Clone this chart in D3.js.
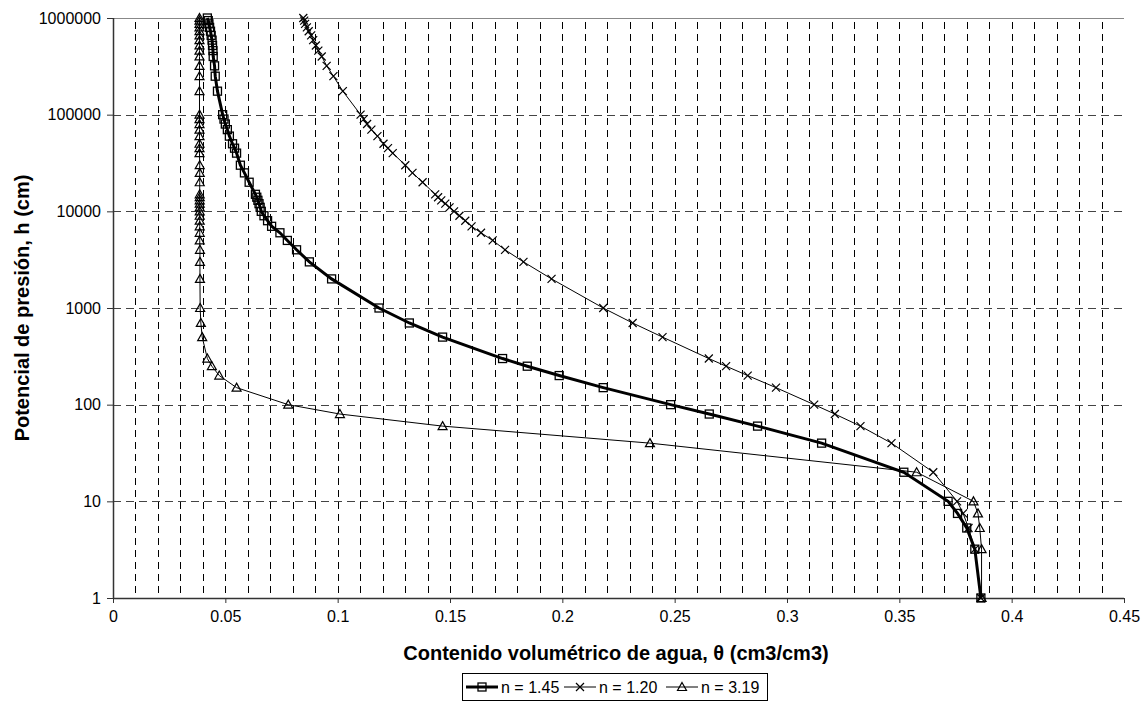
<!DOCTYPE html>
<html>
<head>
<meta charset="utf-8">
<script src="https://cdn.jsdelivr.net/npm/d3@7"></script>
<style>
	body { margin: 0; background: #fff; }
	text { font-family: "Liberation Sans", Arial, sans-serif; }
</style>
</head>
<body>
<svg id="chart" width="1148" height="706"></svg>
<script>
// pressure heads shared by all three curves (cm)
var heads = [1, 3.2, 5.3, 7.5, 10, 20, 40, 60, 80, 100, 150, 200, 250, 300, 500, 700,
	1000, 2000, 3000, 4000, 5000, 6000, 7000, 8000, 9000, 10000, 11000, 12000, 13000, 14000,
	15000, 20000, 25000, 30000, 40000, 45000, 50000, 60000, 70000, 80000, 90000, 100000,
	175000, 250000, 320000, 400000, 460000, 520000, 590000, 660000, 730000, 800000,
	870000, 940000, 1000000];

// water content for n = 1.45
var theta_145 = [0.3863, 0.3836, 0.3800, 0.3759, 0.3717, 0.3520, 0.3154, 0.2869, 0.2654, 0.2482,
	0.2182, 0.1986, 0.1844, 0.1734, 0.1467, 0.1319, 0.1184, 0.0973, 0.0874, 0.0817, 0.0776,
	0.0743, 0.0706, 0.0688, 0.0672, 0.0660, 0.0655, 0.0650, 0.0645, 0.0640, 0.0634, 0.0606,
	0.0585, 0.0567, 0.0550, 0.0541, 0.0532, 0.0518, 0.0509, 0.0500, 0.0494, 0.0488, 0.0465,
	0.0455, 0.0452, 0.0446, 0.0445, 0.0443, 0.0441, 0.0437, 0.0434, 0.0430, 0.0427, 0.0424, 0.0420];

// water content for n = 1.20
var theta_120 = [0.3863, 0.3836, 0.3808, 0.3784, 0.3757, 0.3651, 0.3465, 0.3327, 0.3213, 0.3121,
	0.2951, 0.2825, 0.2729, 0.2652, 0.2446, 0.2313, 0.2182, 0.1952, 0.1827, 0.1745, 0.1690,
	0.1638, 0.1596, 0.1568, 0.1542, 0.1518, 0.1498, 0.1479, 0.1461, 0.1447, 0.1434, 0.1378,
	0.1333, 0.1301, 0.1245, 0.1224, 0.1204, 0.1177, 0.1150, 0.1131, 0.1116, 0.1102, 0.1023,
	0.0981, 0.0951, 0.0929, 0.0914, 0.0903, 0.0891, 0.0882, 0.0871, 0.0863, 0.0855, 0.0851, 0.0847];

// water content for n = 3.19
var theta_319 = [0.3866, 0.3866, 0.3858, 0.3850, 0.3830, 0.3577, 0.2390, 0.1467, 0.1010, 0.0780,
	0.0550, 0.0473, 0.0440, 0.0420, 0.0397, 0.0391, 0.0388, 0.0387, 0.0387, 0.0387, 0.0386,
	0.0386, 0.0386, 0.0386, 0.0386, 0.0386, 0.0386, 0.0386, 0.0386, 0.0386, 0.0386, 0.0386,
	0.0386, 0.0386, 0.0385, 0.0385, 0.0385, 0.0385, 0.0385, 0.0385, 0.0385, 0.0385, 0.0385,
	0.0385, 0.0385, 0.0385, 0.0385, 0.0385, 0.0385, 0.0385, 0.0385, 0.0385, 0.0385, 0.0385, 0.0385];

var series_names = ['n = 1.45', 'n = 1.20', 'n = 3.19'];
var x_ticks = [0, 0.05, 0.1, 0.15, 0.2, 0.25, 0.3, 0.35, 0.4, 0.45];
var y_ticks = [1, 10, 100, 1000, 10000, 100000, 1000000];

var margin = {left: 113, top: 18, right: 24, bottom: 108};
var svg = d3.select('#chart');
var width = 1148 - margin.left - margin.right;
var height = 706 - margin.top - margin.bottom;

var x = d3.scaleLinear().domain([0, 0.45]).range([0, width]);
var y = d3.scaleLog().domain([1, 1000000]).range([height, 0]);

var g = svg.append('g').attr('transform', 'translate(' + margin.left + ',' + margin.top + ')');

// vertical grid every 0.01
var minor = d3.range(1, 45).map(function(i) { return i/100; });
g.selectAll('.vgrid').data(minor).enter().append('line')
	.attr('x1', function(d) { return Math.round(x(d)) + 0.5; })
	.attr('x2', function(d) { return Math.round(x(d)) + 0.5; })
	.attr('y1', 0).attr('y2', height)
	.attr('stroke', '#000').attr('stroke-width', 1)
	.attr('stroke-dasharray', '7,5').attr('stroke-dashoffset', -4);

// horizontal grid at each decade
g.selectAll('.hgrid').data(y_ticks.slice(1)).enter().append('line')
	.attr('x1', 0).attr('x2', width)
	.attr('y1', function(d) { return Math.round(y(d)) + 0.5; })
	.attr('y2', function(d) { return Math.round(y(d)) + 0.5; })
	.attr('stroke', function(d) { return d == 1000000 ? '#888' : '#444'; })
	.attr('stroke-width', 1)
	.attr('stroke-dasharray', function(d) { return d == 1000000 ? null : '8,5'; });

// axes
var xAxis = d3.axisBottom(x).tickValues(x_ticks).tickSize(5).tickPadding(8)
	.tickFormat(function(d) { return d == 0 ? '0' : String(+d.toFixed(2)); });
var yAxis = d3.axisLeft(y).tickValues(y_ticks).tickSize(6).tickPadding(6)
	.tickFormat(function(d) { return String(d); });

var gx = g.append('g').attr('transform', 'translate(0,' + height + ')').call(xAxis);
var gy = g.append('g').call(yAxis);
[gx, gy].forEach(function(a) {
	a.select('.domain').attr('stroke', '#333').attr('stroke-width', 1.5);
	a.selectAll('.tick line').attr('stroke', '#333');
	a.selectAll('.tick text').attr('font-size', 16).attr('fill', '#000')
		.style('font-family', '"Liberation Sans", Arial, sans-serif');
});
gx.select('.domain').attr('d', 'M0,0.5H' + width);
gy.select('.domain').attr('d', 'M0.5,' + height + 'V0');

// titles
svg.append('text')
	.attr('x', 616).attr('y', 660)
	.attr('text-anchor', 'middle').attr('font-size', 20).attr('font-weight', 'bold')
	.text('Contenido volumétrico de agua, θ (cm3/cm3)');

svg.append('text')
	.attr('transform', 'translate(29,' + (margin.top + height/2) + ') rotate(-90)')
	.attr('text-anchor', 'middle').attr('font-size', 20).attr('font-weight', 'bold')
	.text('Potencial de presión, h (cm)');

// series
var series = [
	{name: series_names[0], values: theta_145, width: 3, marker: 'square'},
	{name: series_names[1], values: theta_120, width: 1, marker: 'cross'},
	{name: series_names[2], values: theta_319, width: 1, marker: 'triangle'}
];

var line = d3.line()
	.x(function(d) { return x(d.t); })
	.y(function(d) { return y(d.h); });

function draw_marker(sel, kind) {
	if(kind == 'square') {
		sel.append('rect').attr('x', -4).attr('y', -4).attr('width', 8).attr('height', 8)
			.attr('fill', 'none').attr('stroke', '#000').attr('stroke-width', 1.3);
	} else if(kind == 'cross') {
		sel.append('path').attr('d', 'M-4,-4L4,4M-4,4L4,-4')
			.attr('fill', 'none').attr('stroke', '#000').attr('stroke-width', 1.2);
	} else {
		sel.append('path').attr('d', 'M0,-4.5L4.5,3.5L-4.5,3.5Z')
			.attr('fill', 'none').attr('stroke', '#000').attr('stroke-width', 1.2);
	}
}

series.forEach(function(s) {
	var pts = heads.map(function(h, i) { return {h: h, t: s.values[i]}; });
	g.append('path').datum(pts).attr('d', line)
		.attr('fill', 'none').attr('stroke', '#000').attr('stroke-width', s.width);
	g.selectAll(null).data(pts).enter().append('g')
		.attr('transform', function(d) { return 'translate(' + x(d.t) + ',' + y(d.h) + ')'; })
		.each(function() { draw_marker(d3.select(this), s.marker); });
});

// legend
var leg = svg.append('g').attr('transform', 'translate(462,673)');
leg.append('rect').attr('x', 0.5).attr('y', 0.5).attr('width', 305).attr('height', 27)
	.attr('fill', '#fff').attr('stroke', '#000');
var offsets = [4, 102, 204];
series.forEach(function(s, i) {
	var li = leg.append('g').attr('transform', 'translate(' + offsets[i] + ',14)');
	li.append('line').attr('x1', 0).attr('x2', 32).attr('y1', 0).attr('y2', 0)
		.attr('stroke', '#000').attr('stroke-width', s.width);
	var m = li.append('g').attr('transform', 'translate(16,0)');
	draw_marker(m, s.marker);
	li.append('text').attr('x', 35).attr('y', 6).attr('font-size', 16).text(s.name);
});
</script>
</body>
</html>
